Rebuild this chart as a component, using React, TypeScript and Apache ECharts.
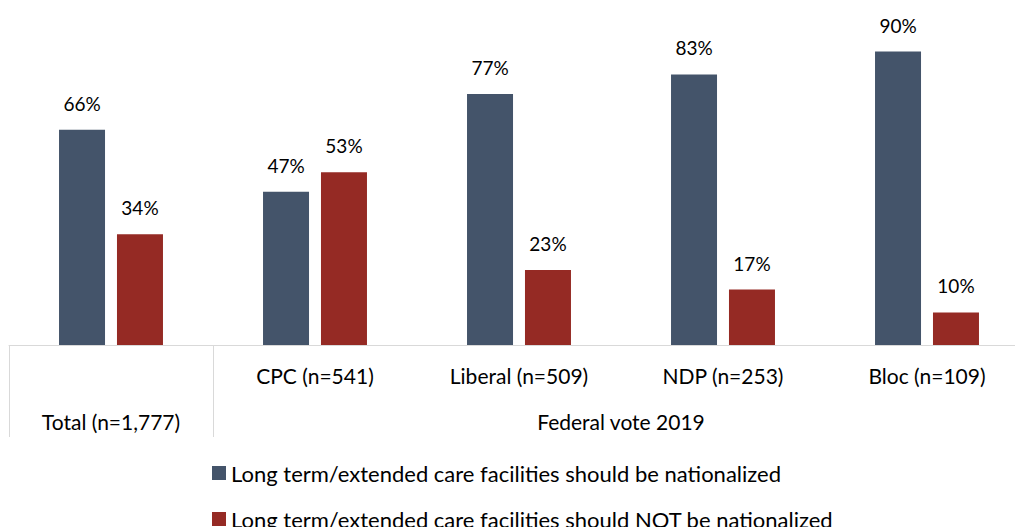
import React, { useEffect, useRef } from "react";
import * as echarts from "echarts";

const categories = ["", "CPC (n=541)", "Liberal (n=509)", "NDP (n=253)", "Bloc (n=109)"];
const groupLabels = ["", "Total (n=1,777)", "", "", "", "", "Federal vote 2019", "", "", "", ""];
const nationalized = [66, 47, 77, 83, 90];
const notNationalized = [34, 53, 23, 17, 10];
const seriesNames = [
  "Long term/extended care facilities should be nationalized",
  "Long term/extended care facilities should NOT be nationalized",
];

const FONT = "Lato";

export default function App() {
  const ref = useRef<HTMLDivElement>(null);
  useEffect(() => {
    if (!ref.current) return;
    const chart = echarts.init(ref.current, undefined, { renderer: "svg" });
    const labelStyle = {
      show: true,
      position: "top" as const,
      distance: 17,
      formatter: "{c}%",
      fontFamily: FONT,
      fontSize: 19,
      color: "#000",
    };
    const legendBase = {
      orient: "horizontal" as const,
      left: 207,
      itemWidth: 14,
      itemHeight: 14,
      itemGap: 10,
      icon: "rect",
      textStyle: { fontFamily: FONT, fontSize: 22, color: "#000" },
    };
    chart.setOption({
      animation: false,
      textStyle: { fontFamily: FONT },
      grid: { left: 9, top: 19, width: 1020, height: 326, containLabel: false },
      legend: [
        { ...legendBase, top: 457, data: [seriesNames[0]] },
        { ...legendBase, top: 503, data: [seriesNames[1]] },
      ],
      xAxis: [
        {
          type: "category",
          data: categories,
          axisLine: { show: true, lineStyle: { color: "#d9d9d9", width: 1 } },
          axisTick: { show: false },
          axisLabel: { margin: 20, fontFamily: FONT, fontSize: 21, color: "#000", interval: 0 },
        },
        {
          type: "category",
          data: groupLabels,
          boundaryGap: false,
          position: "bottom",
          axisLine: { show: false },
          axisTick: {
            show: true,
            length: 92,
            interval: (i: number) => i === 0 || i === 2,
            lineStyle: { color: "#d9d9d9", width: 1 },
          },
          axisLabel: { margin: 66, fontFamily: FONT, fontSize: 21, color: "#000", interval: 0 },
        },
      ],
      yAxis: {
        type: "value",
        min: 0,
        max: 100,
        show: false,
        splitLine: { show: false },
      },
      series: [
        {
          name: seriesNames[0],
          type: "bar",
          data: nationalized,
          barWidth: 46,
          barGap: "26%",
          itemStyle: { color: "#44546a" },
          label: labelStyle,
        },
        {
          name: seriesNames[1],
          type: "bar",
          data: notNationalized,
          barWidth: 46,
          barGap: "26%",
          itemStyle: { color: "#952a24" },
          label: labelStyle,
        },
      ],
    });
    return () => chart.dispose();
  }, []);
  return (
    <div
      ref={ref}
      style={{ position: "fixed", left: 0, top: 0, width: 1035, height: 527, background: "#fff" }}
    />
  );
}
